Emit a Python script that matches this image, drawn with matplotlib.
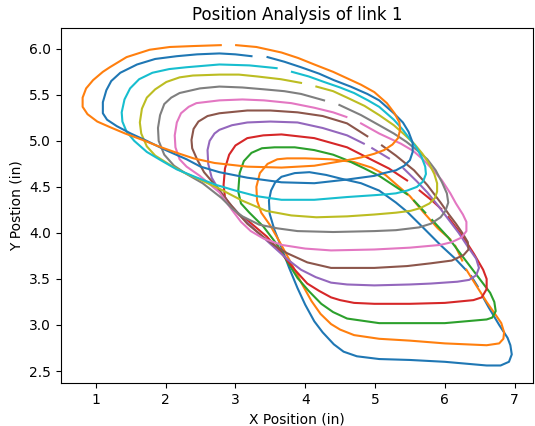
import numpy as np
import matplotlib
matplotlib.use("Agg")
import matplotlib.pyplot as plt

nan = np.nan

# coupler point paths (in), NaN = missing positions
x1 = [6.55, 6.63, 6.78, 6.9, 6.94, 6.96, 6.92, 6.8, 6.6, 6.3, 6.0, 5.5, 5.06, 4.74, 4.55, 4.41, 4.25, 4.13, 4.0, 3.89, 3.77, 3.66, 3.56, 3.49, 3.48, 3.51, 3.57, 3.66, 3.85, 4.06, 4.3, 4.51, 4.8, 5.06, 5.3, 5.46, 5.7, 5.95, 6.15, 6.3, nan, 6.38, 6.47]
y1 = [3.3, 3.19, 3.0, 2.86, 2.78, 2.68, 2.6, 2.56, 2.56, 2.58, 2.6, 2.62, 2.63, 2.66, 2.71, 2.79, 2.92, 3.04, 3.22, 3.4, 3.62, 3.84, 4.03, 4.21, 4.35, 4.46, 4.55, 4.61, 4.65, 4.66, 4.63, 4.59, 4.54, 4.46, 4.33, 4.23, 4.05, 3.86, 3.72, 3.6, nan, 3.53, 3.42]

x2 = [6.31, 6.45, 6.6, 6.72, 6.81, 6.85, 6.84, 6.78, 6.6, 6.3, 6.0, 5.5, 5.06, 4.7, 4.5, 4.37, 4.22, 4.09, 3.95, 3.8, 3.65, 3.5, 3.37, 3.31, 3.3, 3.35, 3.46, 3.6, 3.74, 4.0, 4.37, 4.7, 4.95, 5.15, 5.3, 5.5, 5.7, 5.9, 6.08, nan, 6.15, 6.25]
y2 = [3.6, 3.43, 3.25, 3.12, 3.02, 2.92, 2.85, 2.8, 2.78, 2.79, 2.8, 2.83, 2.85, 2.89, 2.95, 3.01, 3.12, 3.26, 3.45, 3.67, 3.88, 4.08, 4.22, 4.35, 4.5, 4.65, 4.75, 4.8, 4.81, 4.81, 4.8, 4.77, 4.71, 4.63, 4.53, 4.4, 4.22, 4.05, 3.93, nan, 3.86, 3.7]

x3 = [5.82, 6.05, 6.3, 6.5, 6.65, 6.71, 6.73, 6.68, 6.6, 6.3, 6.0, 5.5, 5.06, 4.6, 4.4, 4.23, 4.05, 3.89, 3.75, 3.6, 3.4, 3.2, 3.08, 3.04, 3.06, 3.12, 3.23, 3.38, 3.56, 3.85, 4.13, 4.4, 4.6, 4.85, 5.06, 5.3, 5.46, nan, 5.56, 5.72]
y3 = [4.14, 3.95, 3.7, 3.5, 3.35, 3.25, 3.15, 3.08, 3.06, 3.04, 3.02, 3.02, 3.02, 3.07, 3.14, 3.23, 3.37, 3.51, 3.68, 3.87, 4.07, 4.22, 4.32, 4.45, 4.65, 4.78, 4.87, 4.92, 4.93, 4.93, 4.9, 4.85, 4.79, 4.7, 4.62, 4.5, 4.42, nan, 4.35, 4.22]

x4 = [6.05, 6.25, 6.42, 6.55, 6.6, 6.6, 6.53, 6.41, 6.0, 5.5, 4.99, 4.7, 4.5, 4.37, 4.2, 4.03, 3.85, 3.66, 3.45, 3.2, 3.05, 2.92, 2.85, 2.83, 2.85, 2.91, 3.0, 3.17, 3.4, 3.66, 4.13, 4.6, 4.99, 5.2, 5.46, nan, 5.64, 5.82, 5.95]
y4 = [4.17, 3.97, 3.77, 3.6, 3.5, 3.39, 3.3, 3.27, 3.24, 3.23, 3.23, 3.24, 3.27, 3.3, 3.37, 3.45, 3.6, 3.78, 3.96, 4.12, 4.2, 4.3, 4.39, 4.52, 4.7, 4.85, 4.95, 5.03, 5.06, 5.07, 5.03, 4.93, 4.78, 4.7, 4.57, nan, 4.46, 4.35, 4.26]

x5 = [5.41, 5.6, 5.75, 5.9, 6.05, 6.2, 6.33, 6.45, 6.49, 6.45, 6.35, 6.18, 5.8, 5.5, 4.99, 4.6, 4.37, 4.15, 3.94, 3.75, 3.56, 3.3, 3.09, 2.9, 2.77, 2.66, 2.61, 2.6, 2.63, 2.7, 2.77, 2.95, 3.17, 3.5, 3.89, 4.25, 4.6, 4.84, nan, 4.96, 5.2]
y5 = [4.7, 4.56, 4.44, 4.3, 4.15, 4.0, 3.85, 3.72, 3.62, 3.54, 3.49, 3.47, 3.45, 3.44, 3.43, 3.44, 3.46, 3.52, 3.6, 3.71, 3.84, 4.02, 4.17, 4.33, 4.46, 4.6, 4.75, 4.9, 5.0, 5.08, 5.12, 5.17, 5.2, 5.21, 5.2, 5.14, 5.06, 4.97, nan, 4.92, 4.81]

x6 = [5.1, 5.3, 5.56, 5.75, 5.94, 6.06, 6.16, 6.26, 6.33, 6.34, 6.27, 6.1, 5.8, 5.46, 4.99, 4.6, 4.37, 4.2, 4.03, 3.74, 3.55, 3.41, 3.17, 2.95, 2.73, 2.55, 2.45, 2.38, 2.37, 2.4, 2.47, 2.6, 2.77, 3.17, 3.5, 3.89, 4.25, 4.6, 4.89]
y6 = [4.95, 4.84, 4.68, 4.52, 4.33, 4.2, 4.1, 3.99, 3.9, 3.82, 3.76, 3.7, 3.67, 3.64, 3.62, 3.62, 3.62, 3.65, 3.68, 3.78, 3.87, 3.95, 4.1, 4.29, 4.5, 4.66, 4.8, 4.92, 5.01, 5.13, 5.21, 5.27, 5.3, 5.33, 5.33, 5.31, 5.27, 5.19, 5.05]

x7 = [4.8, 5.06, 5.37, 5.55, 5.7, 5.85, 5.96, 6.08, 6.16, 6.26, 6.31, 6.31, 6.24, 6.1, 5.94, 5.5, 4.99, 4.37, 4.0, 3.66, 3.4, 3.22, 3.08, 2.95, 2.77, 2.49, 2.3, 2.2, 2.14, 2.13, 2.16, 2.22, 2.33, 2.44, 2.77, 3.1, 3.41, 3.8, 4.13, 4.4, 4.59]
y7 = [5.19, 5.08, 4.97, 4.89, 4.79, 4.67, 4.57, 4.43, 4.32, 4.2, 4.12, 4.02, 3.95, 3.9, 3.87, 3.84, 3.82, 3.81, 3.83, 3.87, 3.94, 4.02, 4.12, 4.25, 4.44, 4.62, 4.72, 4.8, 4.93, 5.06, 5.2, 5.3, 5.37, 5.41, 5.44, 5.45, 5.44, 5.41, 5.36, 5.31, 5.26]

x8 = [4.49, 4.8, 5.06, 5.27, 5.45, 5.6, 5.75, 5.87, 5.96, 6.03, 6.05, 6.01, 5.94, 5.8, 5.63, 5.3, 4.99, 4.4, 3.89, 3.6, 3.34, 3.1, 2.96, 2.8, 2.53, 2.3, 2.12, 1.98, 1.9, 1.89, 1.92, 1.98, 2.08, 2.2, 2.49, 2.77, 3.1, 3.41, 3.7, 3.94, 4.27]
y8 = [5.39, 5.28, 5.17, 5.08, 4.99, 4.9, 4.8, 4.68, 4.55, 4.43, 4.33, 4.24, 4.17, 4.1, 4.06, 4.03, 4.02, 4.01, 4.02, 4.05, 4.09, 4.18, 4.26, 4.38, 4.54, 4.64, 4.73, 4.85, 5.0, 5.14, 5.28, 5.4, 5.47, 5.52, 5.57, 5.59, 5.58, 5.56, 5.54, 5.51, 5.44]

x9 = [4.16, 4.4, 4.6, 4.85, 5.06, 5.27, 5.42, 5.56, 5.68, 5.77, 5.85, 5.89, 5.89, 5.86, 5.78, 5.65, 5.51, 5.3, 4.99, 4.6, 4.16, 3.8, 3.44, 3.1, 2.77, 2.49, 2.25, 2.06, 1.85, 1.73, 1.65, 1.63, 1.66, 1.73, 1.85, 2.01, 2.2, 2.39, 2.77, 3.05, 3.31, 3.65, 3.94]
y9 = [5.59, 5.54, 5.47, 5.38, 5.28, 5.17, 5.07, 4.97, 4.86, 4.76, 4.64, 4.54, 4.45, 4.38, 4.32, 4.27, 4.24, 4.22, 4.2, 4.18, 4.17, 4.19, 4.24, 4.35, 4.48, 4.58, 4.66, 4.74, 4.84, 4.94, 5.08, 5.2, 5.35, 5.47, 5.56, 5.64, 5.69, 5.71, 5.72, 5.72, 5.7, 5.67, 5.63]

x10 = [3.81, 4.05, 4.27, 4.5, 4.7, 4.9, 5.06, 5.27, 5.4, 5.51, 5.6, 5.67, 5.72, 5.73, 5.69, 5.6, 5.46, 5.3, 5.17, 4.99, 4.6, 4.13, 3.66, 3.3, 3.0, 2.73, 2.45, 2.16, 1.93, 1.73, 1.55, 1.44, 1.38, 1.37, 1.41, 1.49, 1.62, 1.81, 2.05, 2.3, 2.77, 3.2, 3.59]
y10 = [5.75, 5.7, 5.64, 5.58, 5.52, 5.44, 5.37, 5.23, 5.12, 5.01, 4.92, 4.82, 4.72, 4.64, 4.56, 4.5, 4.46, 4.43, 4.42, 4.41, 4.39, 4.36, 4.36, 4.4, 4.46, 4.52, 4.6, 4.69, 4.79, 4.88, 5.0, 5.1, 5.21, 5.31, 5.45, 5.57, 5.67, 5.74, 5.78, 5.8, 5.83, 5.82, 5.79]

x11 = [3.46, 3.7, 3.94, 4.2, 4.41, 4.65, 4.89, 5.06, 5.27, 5.4, 5.48, 5.54, 5.54, 5.5, 5.42, 5.3, 5.13, 4.99, 4.6, 4.13, 3.66, 3.17, 2.77, 2.5, 2.3, 2.0, 1.73, 1.5, 1.3, 1.16, 1.1, 1.1, 1.15, 1.22, 1.35, 1.59, 1.85, 2.16, 2.45, 2.77, 3.0, 3.23]
y11 = [5.91, 5.86, 5.8, 5.73, 5.66, 5.59, 5.51, 5.44, 5.3, 5.2, 5.1, 4.98, 4.88, 4.79, 4.73, 4.68, 4.65, 4.62, 4.58, 4.54, 4.55, 4.6, 4.66, 4.72, 4.8, 4.9, 5.0, 5.08, 5.16, 5.23, 5.3, 5.42, 5.55, 5.65, 5.74, 5.83, 5.89, 5.92, 5.94, 5.95, 5.94, 5.92]

x12 = [3.01, 3.3, 3.66, 3.9, 4.13, 4.4, 4.6, 4.8, 4.99, 5.17, 5.28, 5.35, 5.36, 5.33, 5.25, 5.13, 4.99, 4.8, 4.6, 4.13, 3.66, 3.17, 2.7, 2.4, 2.16, 1.9, 1.67, 1.42, 1.2, 1.02, 0.88, 0.81, 0.81, 0.86, 0.96, 1.1, 1.2, 1.44, 1.77, 2.06, 2.39, 2.79]
y12 = [6.04, 6.02, 5.96, 5.9, 5.83, 5.75, 5.68, 5.61, 5.53, 5.41, 5.3, 5.2, 5.12, 5.03, 4.96, 4.9, 4.86, 4.82, 4.79, 4.73, 4.71, 4.72, 4.76, 4.81, 4.87, 4.94, 5.01, 5.08, 5.15, 5.21, 5.29, 5.37, 5.47, 5.57, 5.66, 5.75, 5.8, 5.91, 5.99, 6.02, 6.03, 6.04]

xs = [x1, x2, x3, x4, x5, x6, x7, x8, x9, x10, x11, x12]
ys = [y1, y2, y3, y4, y5, y6, y7, y8, y9, y10, y11, y12]

fig = plt.figure(figsize=(5.35, 4.26), dpi=100)
ax = fig.add_axes([0.114, 0.101, 0.883, 0.833])

for x, y in zip(xs, ys):
    ax.plot(x, y)

ax.set_xlim(0.5, 7.27)
ax.set_ylim(2.37, 6.225)
ax.set_title('Position Analysis of link 1')
ax.set_xlabel('X Position (in)')
ax.set_ylabel('Y Postion (in)')

plt.savefig('out.png')
